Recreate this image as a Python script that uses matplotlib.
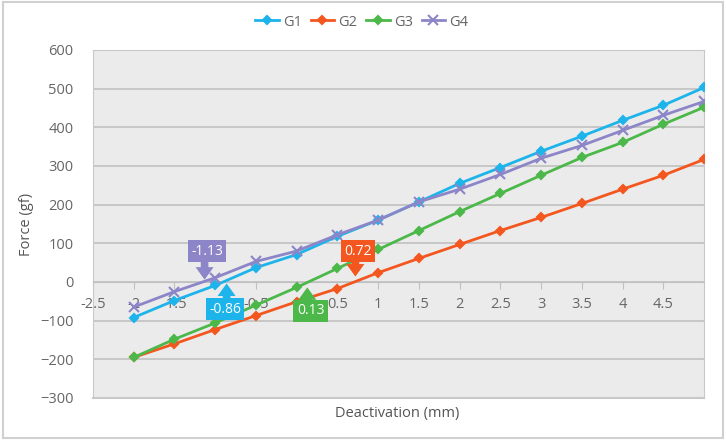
import matplotlib.pyplot as plt

# Dados
deact = [-2, -1.5, -1, -0.5, 0, 0.5, 1, 1.5, 2, 2.5, 3, 3.5, 4, 4.5, 5]
g1 = [-92, -48, -9, 37, 71, 118, 160, 207, 255, 296, 338, 377, 418, 457, 503]
g2 = [-195, -160, -123, -87, -51, -17, 24, 61, 97, 133, 167, 203, 240, 276, 317]
g3 = [-195, -148, -106, -60, -14, 35, 84, 133, 182, 229, 276, 322, 361, 408, 452]
g4 = [-65, -25, 11, 53, 80, 122, 160, 207, 240, 278, 320, 353, 392, 431, 467]

series = ["G1", "G2", "G3", "G4"]
colors = ["#1cb4ea", "#f4561f", "#4cb84a", "#8c86c8"]

# Pontos de cruzamento com zero
cross_vals = [-1.13, -0.86, 0.13, 0.72]
cross_labels = ["-1.13", "-0.86", "0.13", "0.72"]

xticks = [-2.5, -2, -1.5, -1, -0.5, 0, 0.5, 1, 1.5, 2, 2.5, 3, 3.5, 4, 4.5]
yticks = [-300, -200, -100, 0, 100, 200, 300, 400, 500, 600]

txt = "#666666"
plt.rcParams['font.family'] = ['Open Sans', 'DejaVu Sans']

fig = plt.figure(figsize=(7.26, 4.40), dpi=100)
ax = fig.add_axes([0.128, 0.0955, 0.842, 0.791])
ax.set_facecolor("#ebebeb")

markers = ["D", "D", "D", "x"]
sizes = [4, 4, 4, 7]
for vals, name, c, m, s in zip([g1, g2, g3, g4], series, colors, markers, sizes):
    ax.plot(deact, vals, color=c, lw=2, marker=m, ms=s, mew=1.5, label=name, zorder=3)

ax.set_xlim(-2.5, 5)
ax.set_ylim(-300, 600)
ax.set_yticks(yticks)
ax.set_xticks(xticks)
ax.set_xticklabels([f"{t:g}" for t in xticks])
ax.grid(axis="y", color="#c0c0c0", lw=1.2)
ax.set_axisbelow(True)

ax.spines["bottom"].set_position(("data", 0))
ax.spines["bottom"].set_color("#c0c0c0")
for s in ["left", "right", "top"]:
    ax.spines[s].set_color("#c8c8c8")
ax.axhline(-300, color="#c8c8c8", lw=1.5, clip_on=False)
ax.tick_params(axis="x", colors="#c0c0c0", labelcolor=txt, labelsize=10.5, length=5, direction="out", pad=6)
ax.tick_params(axis="y", length=0, labelcolor=txt, labelsize=10.5, pad=14)

ax.set_ylabel("Force (gf)", color="#555555", fontsize=10.5, labelpad=4)
fig.text(0.547, 0.06, "Deactivation (mm)", color="#555555", fontsize=10.5, ha="center", va="center")

ax.legend(loc="center", bbox_to_anchor=(0.44, 1.08), ncol=4, frameon=False,
          fontsize=10.5, labelcolor=txt, handlelength=1.6, columnspacing=0.6, handletextpad=0.3)

# Caixas com setas
box_pos = [(-1.10, 80), (-0.88, -70), (0.17, -74), (0.75, 79)]
tip_y = [6, -4, -14, 14]
cidx = [3, 0, 2, 1]
for xv, lab, (bx, by), ty, ci in zip(cross_vals, cross_labels, box_pos, tip_y, cidx):
    c = colors[ci]
    ax.annotate("", xy=(xv, ty), xytext=(xv, by),
                arrowprops=dict(arrowstyle="simple,head_width=1.3,head_length=0.9,tail_width=0.55",
                                color=c, lw=0, shrinkA=0, shrinkB=0), zorder=5)
    ax.text(bx, by, lab, color="white", fontsize=10, ha="center", va="center", zorder=6,
            bbox=dict(boxstyle="square,pad=0.25", fc=c, ec="none"))

# Moldura do gráfico
fig.patches.append(plt.Rectangle((0.004, 0.005), 0.992, 0.99, transform=fig.transFigure,
                                 fill=False, ec="#d0d0d0", lw=1.5))

plt.savefig("out.png", dpi=100)
